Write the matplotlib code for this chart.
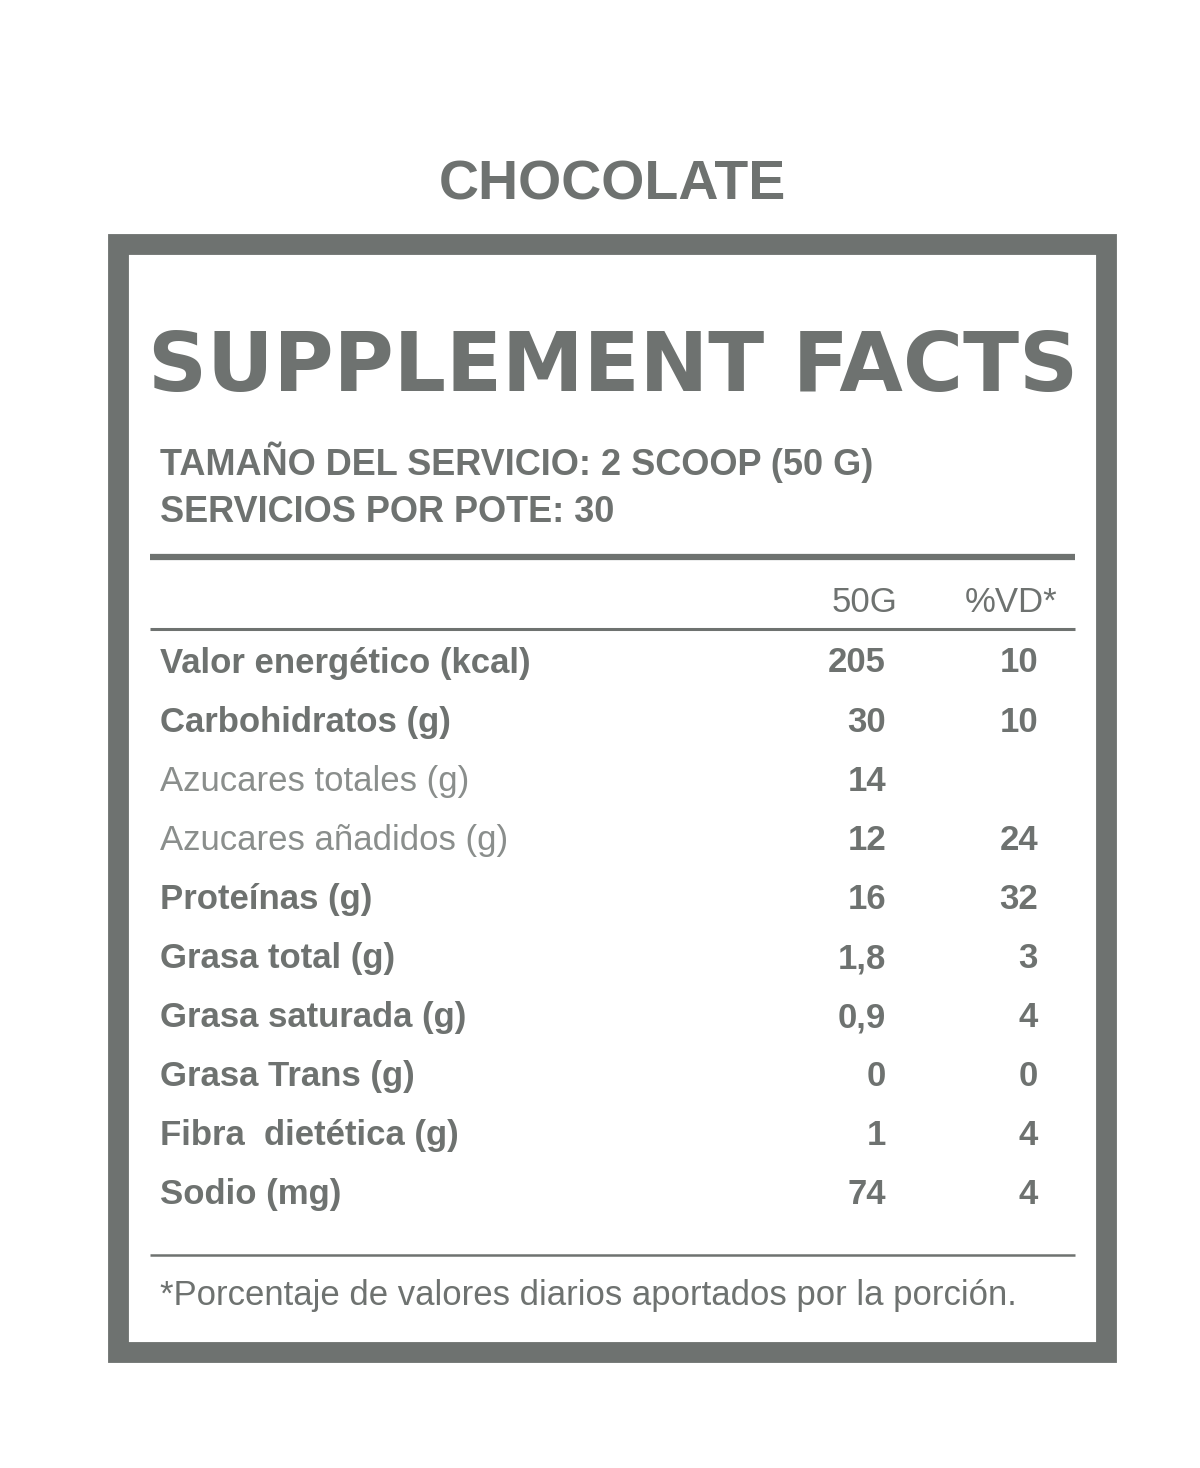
import matplotlib
matplotlib.use("Agg")
import matplotlib.pyplot as plt
from matplotlib.patches import Rectangle

title = "CHOCOLATE"
heading = "SUPPLEMENT FACTS"
serving = ["TAMAÑO DEL SERVICIO: 2 SCOOP (50 G)", "SERVICIOS POR POTE: 30"]
col_headers = ["50G", "%VD*"]
nutrients = ["Valor energético (kcal)", "Carbohidratos (g)", "Azucares totales (g)",
             "Azucares añadidos (g)", "Proteínas (g)", "Grasa total (g)",
             "Grasa saturada (g)", "Grasa Trans (g)", "Fibra  dietética (g)", "Sodio (mg)"]
amounts = ["205", "30", "14", "12", "16", "1,8", "0,9", "0", "1", "74"]
vd = ["10", "10", "", "24", "32", "3", "4", "0", "4", "4"]
light = [False, False, True, True, False, False, False, False, False, False]
footnote = "*Porcentaje de valores diarios aportados por la porción."

C = "#6e7270"
CL = "#8a8e8c"
F = ["Liberation Sans", "DejaVu Sans"]

fig = plt.figure(figsize=(12, 14.68), dpi=100)
ax = fig.add_axes([0, 0, 1, 1])
ax.set_xlim(0, 1200); ax.set_ylim(1468, 0); ax.axis("off")

ax.text(612, 186, title, ha="center", va="center", fontsize=40, color=C, fontweight="bold",
        family=F)
ax.add_patch(Rectangle((118, 244), 988, 1108, fill=False, lw=15, ec=C))
ax.text(613, 368, heading, ha="center", va="center", fontsize=59, fontweight="black",
        color=C, family=["DejaVu Sans"])
ax.text(160, 462, serving[0], ha="left", va="center", fontsize=26, fontweight="bold",
        color=C, family=F)
ax.text(160, 512, serving[1], ha="left", va="center", fontsize=26, fontweight="bold",
        color=C, family=F)
ax.plot([150, 1075], [557, 557], color=C, lw=4.5, solid_capstyle="butt")
ax.text(897, 602, col_headers[0], ha="right", va="center", fontsize=25, color=C, family=F)
ax.text(1057, 602, col_headers[1], ha="right", va="center", fontsize=25, color=C, family=F)
ax.plot([150, 1075], [629, 629], color=C, lw=2.2, solid_capstyle="butt")

for i, (n, a, v, lt) in enumerate(zip(nutrients, amounts, vd, light)):
    y = 663 + i * 59.1
    col = CL if lt else C
    wt = "normal" if lt else "bold"
    ax.text(160, y, n, ha="left", va="center", fontsize=25, color=col, fontweight=wt, family=F)
    ax.text(886, y, a, ha="right", va="center", fontsize=25, color=C, fontweight="bold", family=F)
    ax.text(1038, y, v, ha="right", va="center", fontsize=25, color=C, fontweight="bold", family=F)

ax.plot([150, 1075], [1255, 1255], color=C, lw=1.8, solid_capstyle="butt")
ax.text(160, 1296, footnote, ha="left", va="center", fontsize=25, color=C, family=F)

fig.savefig("out.png", dpi=100, facecolor="white")
